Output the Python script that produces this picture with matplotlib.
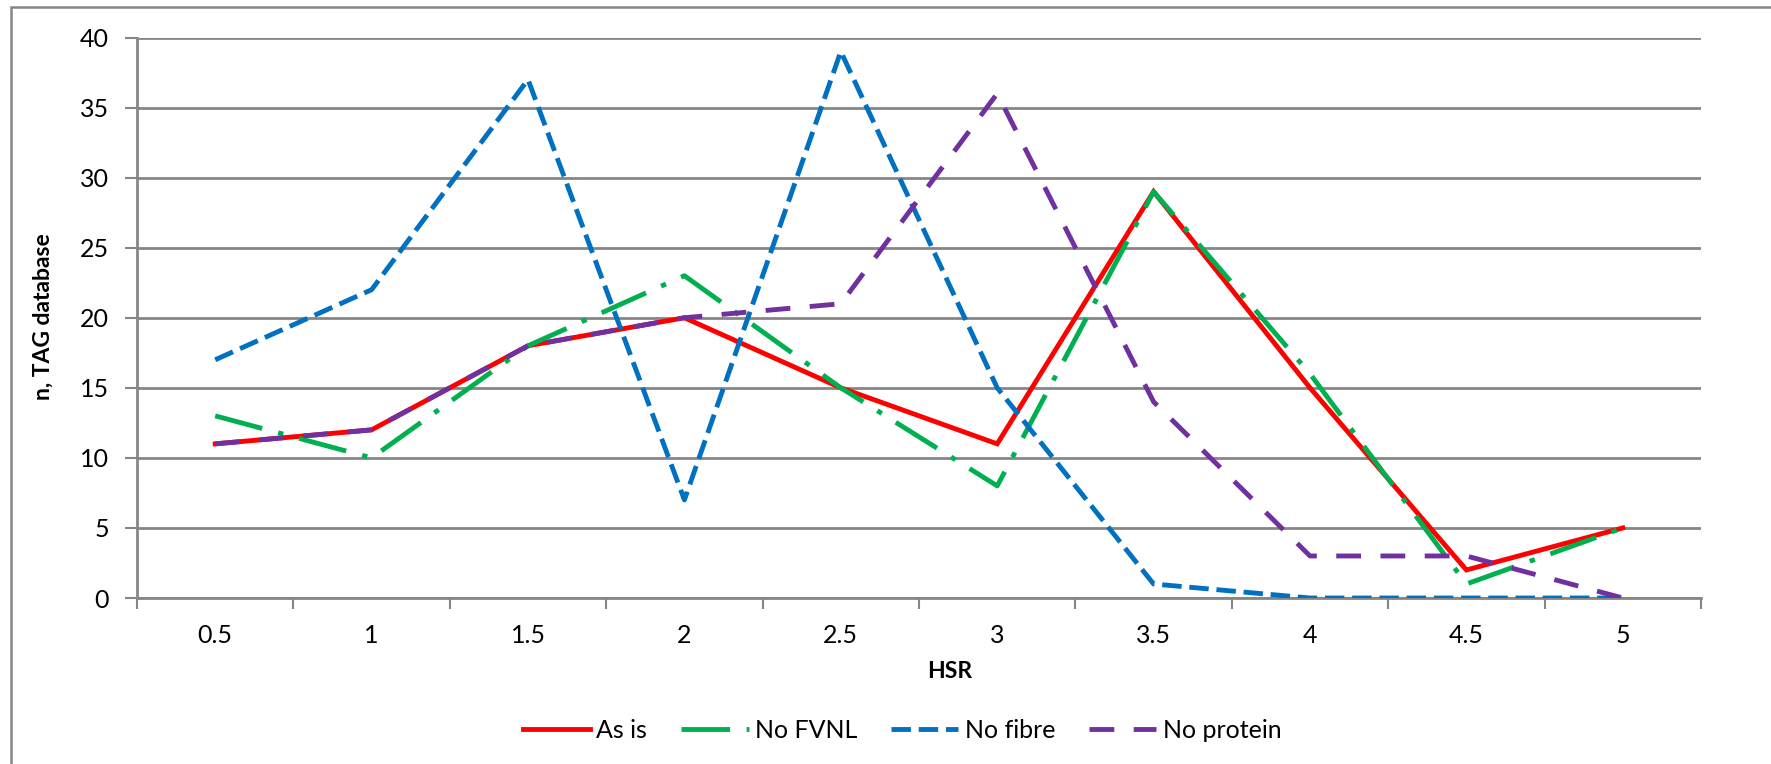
import matplotlib
matplotlib.use("Agg")
import matplotlib.pyplot as plt
from matplotlib.patches import Rectangle

# ---- data ----
hsr_labels = ["0.5", "1", "1.5", "2", "2.5", "3", "3.5", "4", "4.5", "5"]
as_is = [11, 12, 18, 20, 15, 11, 29, 15, 2, 5]
no_fvnl = [13, 10, 18, 23, 15, 8, 29, 16, 1, 5]
no_fibre = [17, 22, 37, 7, 39, 15, 1, 0, 0, 0]
no_protein = [11, 12, 18, 20, 21, 36, 14, 3, 3, 0]
y_ticks = [0, 5, 10, 15, 20, 25, 30, 35, 40]

plt.rcParams['font.family'] = ['Lato', 'DejaVu Sans']

W, H = 1771, 764
fig = plt.figure(figsize=(W / 100, H / 100), dpi=100)
L, R, T, B = 137, 1701, 37.5, 598
ax = fig.add_axes([L / W, 1 - B / H, (R - L) / W, (B - T) / H])

grey = "#868686"
x = list(range(len(hsr_labels)))
lw = 3.5
ax.plot(x, as_is, color="#FF0000", lw=lw, solid_joinstyle="miter", label="As is", zorder=3)
ax.plot(x, no_fvnl, color="#00B050", lw=lw, linestyle=(0, (10, 3.4, 1.1, 3.4)),
        dash_capstyle="butt", label="No FVNL", zorder=3)
ax.plot(x, no_fibre, color="#0070C0", lw=lw, linestyle=(0, (4.0, 1.6)),
        dash_capstyle="butt", label="No fibre", zorder=3)
ax.plot(x, no_protein, color="#7030A0", lw=lw, linestyle=(0, (5.1, 4.0)),
        dash_capstyle="butt", label="No protein", zorder=3)

ax.set_xlim(-0.5, len(hsr_labels) - 0.5)
ax.set_ylim(0, 40)
ax.set_yticks(y_ticks)
ax.set_yticklabels([str(v) for v in y_ticks])
ax.set_xticks(x)
ax.set_xticklabels(hsr_labels)
ax.set_xticks([i - 0.5 for i in range(len(hsr_labels) + 1)], minor=True)
ax.tick_params(axis="x", which="major", length=0, pad=19, labelsize=18, colors="black")
ax.tick_params(axis="x", which="minor", length=8, width=1.5, color=grey, direction="out")
ax.tick_params(axis="y", which="major", length=9, width=1.5, color=grey, pad=11, labelsize=18)

ax.grid(axis="y", color=grey, lw=2.0, zorder=0)
ax.set_axisbelow(True)
for s in ["top", "right"]:
    ax.spines[s].set_visible(False)
for s in ["left", "bottom"]:
    ax.spines[s].set_color(grey)
    ax.spines[s].set_linewidth(2.0)

fig.text(43 / W, 1 - 317 / H, "n, TAG database", rotation=90, ha="center", va="center",
         fontsize=16.5, fontweight="bold")
fig.text(950 / W, 1 - 672 / H, "HSR", ha="center", va="center", fontsize=16.5, fontweight="bold")

leg = fig.legend(loc="center", bbox_to_anchor=(902 / W, 1 - 730 / H), ncol=4, frameon=False,
                 fontsize=18, handlelength=2.7, handletextpad=0.25, columnspacing=1.35)

# outer chart frame
fig.patches.append(Rectangle((10.5 / W, -0.05), 1.2, 1.05 - 6.5 / H, transform=fig.transFigure,
                             fill=False, edgecolor=grey, lw=1.8))

fig.savefig("out.png", dpi=100, facecolor="white")
